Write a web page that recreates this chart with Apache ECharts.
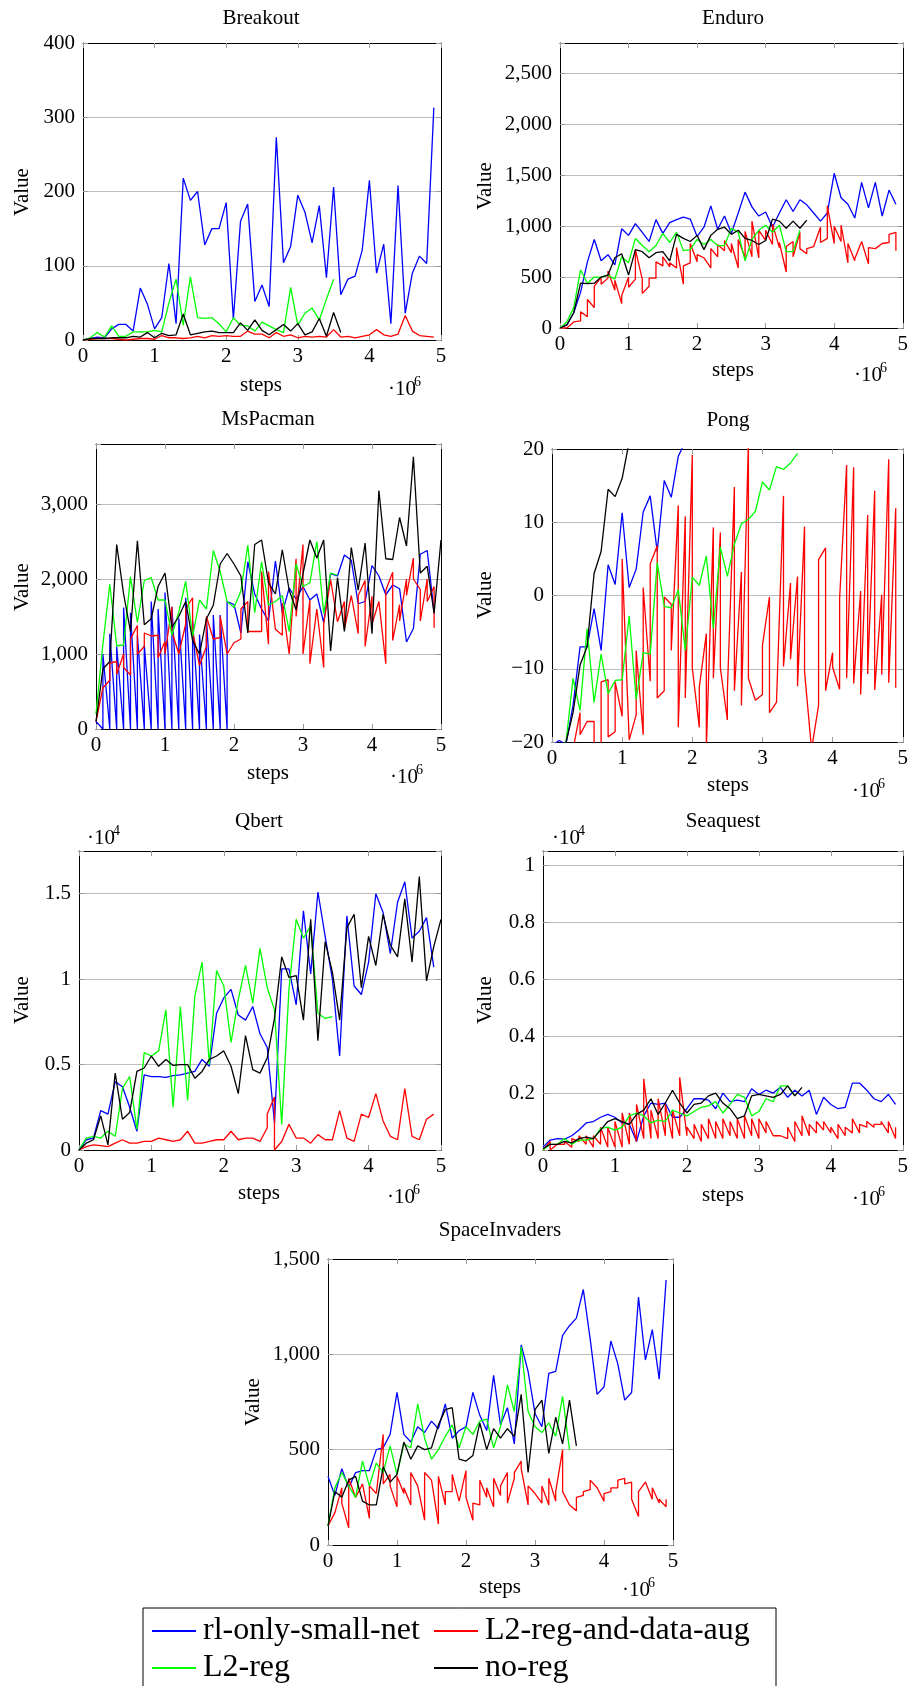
<!DOCTYPE html>
<html>
<head>
<meta charset="utf-8">
<script src="https://cdn.jsdelivr.net/npm/echarts@6/dist/echarts.min.js"></script>
<style>
  html, body { margin: 0; padding: 0; background: #fff; }
  #chart { width: 911px; height: 1686px; }
</style>
</head>
<body>
<div id="chart"></div>
<script>
// steps, in units of 1e6
const steps = [0, 0.1, 0.2, 0.3, 0.4, 0.5, 0.6, 0.7, 0.8, 0.9,
    1.0, 1.1, 1.2, 1.3, 1.4, 1.5, 1.6, 1.7, 1.8, 1.9,
    2.0, 2.1, 2.2, 2.3, 2.4, 2.5, 2.6, 2.7, 2.8, 2.9,
    3.0, 3.1, 3.2, 3.3, 3.4, 3.5, 3.6, 3.7, 3.8, 3.9,
    4.0, 4.1, 4.2, 4.3, 4.4, 4.5, 4.6, 4.7, 4.8, 4.9, 5.0];

const seriesNames = ['rl-only-small-net', 'L2-reg-and-data-aug', 'L2-reg', 'no-reg'];
const seriesColors = ['#0000ff', '#ff0000', '#00ff00', '#000000'];

// a pair [a, b] means two logged values at the same step
// Breakout
const breakoutBlue = [0, 2, 4, 3, 15, 21, 21, 12, 70, 48, 15, 30, 103, 22, 218, 188, 200, 128, 150, 150, 185, 28, 160, 183, 52, 74, 45, 273, 104, 126, 195, 172, 131, 181, 84, 206, 61, 82, 86, 121, 215, 90, 129, 22, 208, 36, 90, 113, 103, 313];
const breakoutRed = [0, 1, 2, 2, 2, 1, 0, 1, 2, 2, 1, 6, 3, 3, 2, 3, 5, 3, 6, 5, 6, 5, 5, 12, 8, 8, 3, 10, 5, 7, 3, 5, 4, 5, 4, 14, 4, 5, 3, 5, 7, 14, 7, 5, 8, 33, 12, 6, 5, 4];
const breakoutGreen = [0, 3, 10, 4, 19, 5, 5, 11, 11, 11, 13, 11, 50, 82, 20, 85, 30, 29, 30, 22, 11, 30, 20, 19, 12, 24, 19, 14, 10, 71, 20, 36, 43, 27, 55, 82];
const breakoutBlack = [0, 2, 2, 2, 3, 3, 3, 5, 4, 10, 3, 9, 6, 7, 35, 7, 9, 11, 12, 10, 10, 10, 23, 13, 27, 13, 7, 14, 21, 12, 22, 7, 11, 29, 5, 37, 10];

// Enduro
const enduroBlue = [0, 30, 150, 350, 650, 870, 660, 720, 620, 975, 910, 1025, 940, 850, 1065, 930, 1035, 1065, 1090, 1070, 900, 990, 1200, 970, 1100, 930, 1130, 1335, 1190, 1100, 1140, 990, 1130, 1260, 1145, 1260, 1210, 1130, 1050, 1130, 1520, 1280, 1215, 1080, 1430, 1180, 1430, 1100, 1355, 1215];
const enduroRed = [0, 0, 60, [70, 160], [110, 280], [200, 410], [500, 430], [490, 560], [370, 470], [240, 320],
    [500, 400], [480, 770], [480, 340], [410, 490], [490, 650], [610, 700], [600, 640], [590, 790], [430, 610], [640, 830],
    [650, 720], [690, 700], [590, 780], [700, 820], [760, 860], [740, 830], [590, 870], [690, 950], [700, 1050], [690, 960],
    [860, 960], [820, 1020], [790, 840], [550, 800], [850, 700], [940, 780], [730, 780], 800, [990, 840], [880, 1200],
    [830, 1000], [850, 1010], [640, 830], [660, 680], [850, 860], [630, 790], 780, [830, 840], [840, 920], [940, 760]];
const enduroGreen = [0, 60, 200, 570, 440, 500, 500, 520, 480, 700, 640, 880, 810, 750, 810, 930, 840, 940, 760, 770, 870, 820, 870, 810, 810, 980, 940, 660, 870, 960, 1010, 940, 1010, 750, 750, 960];
const enduroBlack = [0, 30, 150, 440, 435, 440, 500, 520, 690, 730, 520, 770, 750, 690, 740, 750, 660, 920, 880, 850, 910, 770, 910, 970, 990, 920, 960, 880, 860, 820, 860, 1070, 1050, 980, 1050, 980, 1060];

// MsPacman
const pacmanBlue = [100, [0, 1000], [0, 1270], [0, 1100], [0, 1620], [0, 1550], [0, 1250], [0, 1120], [0, 1700], [0, 1600],
    [0, 1820], [0, 1630], [0, 1475], [0, 1750], [0, 1450], [0, 1260], [0, 1475], [0, 1520], [0, 1520], [0, 1700],
    1660, 1280, 2230, 1800, 1600, 1440, 2240, 1550, 1880, 1730, 1900, 1720, 1800, 1420, 2070, 2040, 2320, 2250, 1670, 1700,
    2180, 2040, 1790, 1920, 1870, 1160, 1340, 2330, 2380, 1560];
const pacmanRed = [100, 550, [650, 880], [900, 730], [1000, 820], [720, 1200], [1380, 1000], [1100, 1280], 1240, [1250, 950],
    [1170, 1000], [1630, 1300], 1000, [1400, 1600], [1750, 1300], 850, [1100, 1500], 1200, [1220, 1500], 1000,
    1150, [1200, 1600], [1700, 1300], 1300, [1300, 2100], [1130, 2100], 1330, [1250, 1680], 1000, [2270, 1500],
    [2460, 1000], [1720, 870], 1600, [820, 1400], 1990, 1430, [1700, 1330], 1780, [1270, 1780], [1980, 1100],
    [1770, 1400], 1700, [870, 1850], [2090, 1180], [1660, 1440], [2000, 1780], [2280, 2000], [1860, 1440], [2000, 1700], [1900, 1350]];
const pacmanGreen = [200, 1130, 1930, 1110, 1120, 2030, 1420, 1980, 2020, 1720, 1720, 1250, 1560, 1970, 1230, 1720, 1600, 2380, 2100, 1700, 1620, 1840, 2450, 1550, 2230, 1650, 1700, 1780, 1300, 2200, 1900, 1950, 2500, 1540, 2080, 2050];
const pacmanBlack = [100, 800, 900, 2460, 1800, 1300, 2510, 1390, 1470, 1900, 2080, 1360, 1500, 1700, 1180, 1000, 1470, 1650, 2200, 2340, 2200, 2040, 1280, 2460, 2520, 1950, 1800, 2390, 1850, 1590, 2070, 2520, 2280, 2520, 1040, 2020, 1300, 2420, 1850, 2480, 1270, 3180, 2270, 2260, 2820, 2440, 3630, 2080, 2170, 1540, 2520];

// Pong
const pongBlue = [-20.5, -19.8, -20.3, -15, -7, -7, -1.8, -7.5, 4.2, 1.5, 11.3, 1.1, 3.6, 11.4, 13.6, 6, 15.7, 13.4, 19, 21];
const pongRed = [-21, -21, -21, -21, [-16, -19], -17.2, [-17.2, -21], [-21, -11.8], [-11.5, -19.3], [-18.6, -11.8],
    [-16.5, 5], -19.7, [-16.3, -7.5], [-19, 1.1], [-11.7, 4.3], [6.8, -14], [-13, -0.2], [-1.2, -7.5], [12.3, -18], [10.8, -14],
    [19.2, -9.9], [-18, -12.5], [-5.2, -21], [9.3, -11.3], [8.6, -9.9], [-17, -13], [14.8, -13], [3.2, -15], [21, -11.3], -14.3,
    [-13.5, -6.8], [-0.2, -16], -14.6, [13.6, -9.7], [1.7, -8.7], [2.6, -12.4], [9.4, -10.4], -21, [-15, 4.9], [6.5, -13],
    [-7.8, -9.8], [-12.8, -0.4], [17.8, -11.3], [17.5, -12], [0.6, -13.5], [11, -10.7], [14.3, -12.9], [0.1, -10.8], [18.6, -11.9], [11.9, -12.6]];
const pongGreen = [-20.5, -20.5, -20, -11.3, -15.7, -4.5, -14.6, -8, -13.4, -11.6, -11.5, -2.8, -14.2, -7.8, -8, 4.5, -1.5, -1.7, 0.8, -7.5, 2.5, 1.4, 5.4, -4.5, 6.6, 2.6, 7, 9.8, 10.4, 11.5, 15.5, 14.4, 17.6, 17.2, 18.1, 19.4];
const pongBlack = [-20.5, -20.5, -20, -16, -9.5, -7, 3, 6, 14.5, 13.5, 16, 21];

// Qbert
const qbertBlue = [0, 600, 700, 2300, 2100, 4000, 3700, 2500, 1100, 4400, 4300, 4300, 4250, 4350, 4400, 4500, 4600, 5300, 4900, 8000, 8900, 9400, 7900, 7600, 8400, 6800, 6000, 1600, 10600, 10600, 8500, 14000, 10300, 15100, 12500, 10000, 5500, 13700, 9600, 9100, 11000, 15000, 13900, 11500, 14500, 15700, 12400, 12800, 13600, 10700];
const qbertRed = [0, 200, 300, 250, 200, 400, 600, 400, 400, 500, 500, 700, 600, 500, 600, 1100, 400, 400, 500, 600, 600, 1100, 600, 700, 700, 500, [1300, 2100], [3100, 0], 500, 1500, 700, 700, 400, 900, 600, 600, 2300, 700, 500, 2100, 1900, 3300, 1700, 800, 600, 3600, 800, 600, 1800, 2100];
const qbertGreen = [0, 700, 800, 700, 1100, 800, 3600, 4300, 1200, 5700, 5500, 5800, 8200, 2500, 8400, 2900, 9000, 11000, 5000, 10500, 9600, 6300, 8800, 10800, 8600, 11800, 9500, 8200, 1500, 9400, 13500, 12400, 13100, 8000, 7700, 7800];
const qbertBlack = [0, 400, 600, 2000, 300, 4500, 1800, 2200, 4600, 4800, 5500, 4900, 5300, 4950, 5000, 5000, 4200, 4600, 5300, 5500, 5800, 4900, 3300, 6700, 4700, 4500, 5400, 7700, 11300, 10100, 10200, 7600, 13500, 6400, 12200, 10400, 7600, 13000, 13800, 9500, 12500, 10800, 13800, 12000, 11300, 14700, 11000, 16000, 9900, 11900, 13500];

// Seaquest
const seaquestBlue = [100, 350, 400, 380, 500, 700, 950, 1000, 1150, 1250, 1150, 950, 900, 300, 1200, 1650, 1600, 1650, 1150, 1150, 1450, 1800, 1800, 1750, 1450, 2000, 1700, 1750, 1700, 2150, 1950, 2100, 2000, 2200, 1850, 2100, 1900, 2100, 1250, 1850, 1600, 1450, 1500, 2350, 2350, 2100, 1800, 1700, 1950, 1600];
const seaquestRed = [0, [300, 0], 200, [200, 300], [100, 400], [300, 500], [200, 500], [100, 500], [200, 800], [100, 800],
    [100, 1000], [100, 1300], [200, 1300], [300, 1600], [400, 2500], [400, 1400], [400, 1800], [500, 1600], [400, 1400], [500, 2550],
    [500, 800], [400, 900], [300, 900], [400, 1100], [400, 1000], [400, 1100], [500, 1000], [400, 1100], [400, 1200], [500, 1100],
    [400, 1100], [600, 1000], 500, 500, [400, 800], [300, 1000], [500, 1200], [500, 900], [600, 1000], [700, 1000],
    [600, 800], [400, 900], [500, 800], [600, 1100], [600, 900], [800, 1000], [800, 900], [900, 1000], [600, 1000], [400, 800]];
const seaquestGreen = [0, 200, 200, 400, 200, 350, 350, 400, 750, 800, 700, 800, 1200, 1300, 1200, 950, 1050, 1000, 1400, 1300, 1200, 1350, 1500, 1550, 1700, 1300, 1600, 1950, 1850, 1200, 1350, 1800, 1700, 2250, 2250, 1900];
const seaquestBlack = [50, 200, 200, 300, 250, 400, 450, 400, 700, 1000, 1100, 1000, 900, 1250, 1400, 1800, 1250, 1650, 2100, 1650, 1300, 1600, 1650, 1900, 2000, 1650, 1450, 1100, 1200, 1900, 1950, 1900, 1850, 1950, 2250, 1900, 2200];

// SpaceInvaders
const invadersBlue = [360, 260, 400, 300, 380, 390, 390, 500, 510, 580, 800, 580, 540, 620, 590, 650, 610, 740, 560, 600, 620, 800, 680, 600, 890, 630, 720, 530, 1050, 910, 690, 620, 900, 910, 1100, 1150, 1190, 1340, 1080, 790, 830, 1070, 950, 760, 800, 1300, 970, 1130, 870, 1390];
const invadersRed = [100, 170, [300, 220], [90, 350], 250, 320, [140, 310], 270, [580, 320], [370, 310],
    [200, 360], [270, 300], [210, 380], 310, [130, 380], 340, [110, 360], [210, 280], [280, 370], 230,
    [390, 250], [130, 220], [210, 340], [250, 300], [200, 350], [260, 310], [380, 220], [350, 380], [440, 400], [210, 310],
    270, [220, 310], [210, 350], [230, 280], [500, 280], 210, [180, 250], [260, 280], [290, 340], 300,
    [230, 270], [280, 300], [300, 340], [350, 320], [330, 240], [150, 280], 330, [240, 300], [220, 240], [200, 240]];
const invadersGreen = [100, 300, 380, 310, 250, 440, 310, 430, 380, 520, 370, 530, 510, 740, 560, 450, 500, 570, 630, 510, 620, 580, 650, 660, 510, 620, 840, 700, 1040, 700, 620, 590, 640, 570, 780, 500];
const invadersBlack = [100, 280, 250, 340, 360, 230, 210, 210, 410, 330, 370, 540, 450, 520, 500, 510, 630, 710, 720, 450, 440, 470, 640, 500, 610, 560, 610, 570, 790, 380, 710, 760, 480, 670, 530, 760, 520];

const FONT = "'Liberation Serif', 'DejaVu Serif', serif";

// layout of each panel: grid [left, top, width, height] and text anchors
const panels = [
    { title: 'Breakout', lines: [breakoutBlue, breakoutRed, breakoutGreen, breakoutBlack],
      grid: [83, 43, 358, 297], yMin: 0, yMax: 400, yStep: 100, scale: 1,
      titlePos: [261, 18], valuePos: [22, 192], stepsPos: [261, 385], expPos: [388, 389] },
    { title: 'Enduro', lines: [enduroBlue, enduroRed, enduroGreen, enduroBlack],
      grid: [560, 43, 345, 285], yMin: 0, yMax: 2800, yStep: 500, scale: 1,
      titlePos: [733, 18], valuePos: [485, 186], stepsPos: [733, 370], expPos: [854, 375] },
    { title: 'MsPacman', lines: [pacmanBlue, pacmanRed, pacmanGreen, pacmanBlack],
      grid: [96, 444, 345, 285], yMin: 0, yMax: 3800, yStep: 1000, scale: 1,
      titlePos: [268, 419], valuePos: [22, 587], stepsPos: [268, 773], expPos: [390, 777] },
    { title: 'Pong', lines: [pongBlue, pongRed, pongGreen, pongBlack],
      grid: [552, 449, 353, 293], yMin: -20, yMax: 20, yStep: 10, scale: 1,
      titlePos: [728, 420], valuePos: [485, 595], stepsPos: [728, 785], expPos: [852, 791] },
    { title: 'Qbert', lines: [qbertBlue, qbertRed, qbertGreen, qbertBlack],
      grid: [79, 851, 362, 299], yMin: 0, yMax: 17500, yStep: 5000, scale: 1e4,
      titlePos: [259, 821], valuePos: [22, 1000], stepsPos: [259, 1193], expPos: [387, 1197], yExpPos: [87, 838] },
    { title: 'Seaquest', lines: [seaquestBlue, seaquestRed, seaquestGreen, seaquestBlack],
      grid: [543, 851, 361, 299], yMin: 0, yMax: 10500, yStep: 2000, scale: 1e4,
      titlePos: [723, 821], valuePos: [485, 1000], stepsPos: [723, 1195], expPos: [852, 1199], yExpPos: [552, 838] },
    { title: 'SpaceInvaders', lines: [invadersBlue, invadersRed, invadersGreen, invadersBlack],
      grid: [328, 1259, 345, 286], yMin: 0, yMax: 1500, yStep: 500, scale: 1,
      titlePos: [500, 1230], valuePos: [253, 1402], stepsPos: [500, 1587], expPos: [622, 1590] }
];

function toPoints(vals) {
    const pts = [];
    vals.forEach(function (v, i) {
        if (Array.isArray(v)) {
            pts.push([steps[i], v[0]]);
            pts.push([steps[i], v[1]]);
        } else {
            pts.push([steps[i], v]);
        }
    });
    return pts;
}

function yFormatter(p) {
    return function (v) {
        const r = Math.abs(v / p.yStep - Math.round(v / p.yStep));
        if (r > 1e-6) return '';
        let s;
        if (p.scale !== 1) {
            s = String(+(v / p.scale).toFixed(3));
        } else {
            s = String(Math.abs(v)).replace(/\B(?=(\d{3})+(?!\d))/g, ',');
            if (v < 0) s = '\u2212' + s;
        }
        return s;
    };
}

function textEl(txt, x, y, size, extra) {
    return Object.assign({
        type: 'text', x: x, y: y, silent: true,
        style: {
            text: txt, fontFamily: FONT, fontSize: size, fill: '#000',
            align: 'center', verticalAlign: 'middle',
            textAlign: 'center', textVerticalAlign: 'middle'
        }
    }, extra || {});
}

function expEls(x, y, sup) {
    return [
        { type: 'text', x: x, y: y, silent: true,
          style: { text: '\u00b710', fontFamily: FONT, fontSize: 21, fill: '#000',
                   align: 'left', verticalAlign: 'middle', textAlign: 'left', textVerticalAlign: 'middle' } },
        { type: 'text', x: x + 26, y: y - 7, silent: true,
          style: { text: sup, fontFamily: FONT, fontSize: 14, fill: '#000',
                   align: 'left', verticalAlign: 'middle', textAlign: 'left', textVerticalAlign: 'middle' } }
    ];
}

const grids = [], xAxes = [], yAxes = [], series = [];
let graphics = [];

panels.forEach(function (p, k) {
    grids.push({ left: p.grid[0], top: p.grid[1], width: p.grid[2], height: p.grid[3], containLabel: false });

    const tick = { show: true, inside: true, length: 5, lineStyle: { color: '#999' } };
    const line = { show: true, onZero: false, lineStyle: { color: '#000', width: 1 } };

    xAxes.push({
        type: 'value', gridIndex: k, min: 0, max: 5, interval: 1, position: 'bottom',
        axisLine: line, axisTick: tick, splitLine: { show: false },
        axisLabel: { fontFamily: FONT, fontSize: 21, color: '#000', margin: 6 }
    });
    xAxes.push({
        type: 'value', gridIndex: k, min: 0, max: 5, interval: 1, position: 'top',
        axisLine: line, axisTick: tick, splitLine: { show: false }, axisLabel: { show: false }
    });
    yAxes.push({
        type: 'value', gridIndex: k, min: p.yMin, max: p.yMax, interval: p.yStep, position: 'left',
        axisLine: line, axisTick: tick,
        splitLine: { show: true, lineStyle: { color: '#bdbdbd', width: 1 } },
        axisLabel: { fontFamily: FONT, fontSize: 21, color: '#000', margin: 8, formatter: yFormatter(p) }
    });
    yAxes.push({
        type: 'value', gridIndex: k, min: p.yMin, max: p.yMax, interval: p.yStep, position: 'right',
        axisLine: line, axisTick: tick, splitLine: { show: false }, axisLabel: { show: false }
    });

    p.lines.forEach(function (vals, s) {
        series.push({
            name: seriesNames[s], type: 'line',
            xAxisIndex: 2 * k, yAxisIndex: 2 * k,
            data: toPoints(vals),
            showSymbol: false, symbol: 'none', clip: true,
            lineStyle: { color: seriesColors[s], width: 1.3 },
            itemStyle: { color: seriesColors[s] },
            z: 2 + s
        });
    });

    graphics.push(textEl(p.title, p.titlePos[0], p.titlePos[1], 21));
    graphics.push(textEl('Value', p.valuePos[0], p.valuePos[1], 21, { rotation: Math.PI / 2 }));
    graphics.push(textEl('steps', p.stepsPos[0], p.stepsPos[1], 21));
    graphics = graphics.concat(expEls(p.expPos[0], p.expPos[1], '6'));
    if (p.yExpPos) graphics = graphics.concat(expEls(p.yExpPos[0], p.yExpPos[1], '4'));
});

// legend frame
graphics.push({
    type: 'rect', silent: true, z: -1,
    shape: { x: 143, y: 1608, width: 633, height: 100 },
    style: { fill: '#fff', stroke: '#000', lineWidth: 1 }
});

// one legend per entry, laid out as 2 columns x 2 rows
const legendSlots = [[152, 1615], [434, 1615], [152, 1652], [434, 1652]];
const legendOrder = [0, 1, 2, 3];

const legends = legendOrder.map(function (s, j) {
    return {
        left: legendSlots[j][0], top: legendSlots[j][1], padding: 0,
        orient: 'horizontal', icon: 'rect', itemWidth: 44, itemHeight: 2,
        selectedMode: false, data: [seriesNames[s]],
        textStyle: { fontFamily: FONT, fontSize: 32, color: '#000', padding: [0, 0, 0, 2] }
    };
});

let chart = echarts.init(document.getElementById('chart'));
chart.setOption({
    animation: false,
    backgroundColor: '#fff',
    grid: grids,
    xAxis: xAxes,
    yAxis: yAxes,
    series: series,
    legend: legends,
    graphic: { elements: graphics }
});
</script>
</body>
</html>
